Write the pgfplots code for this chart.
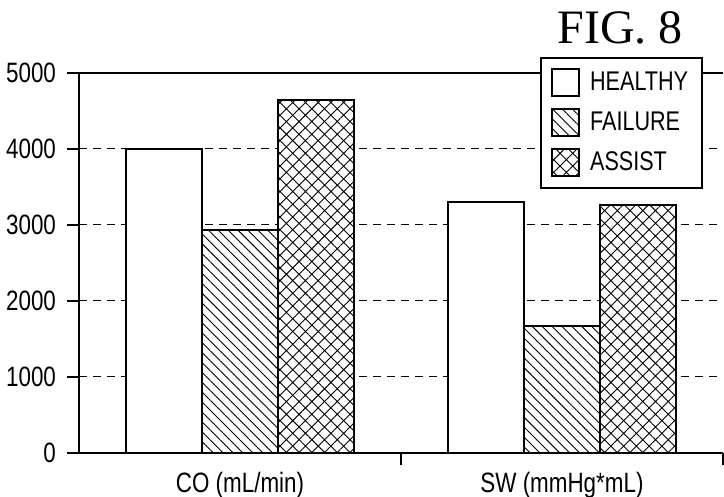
\documentclass[border=0pt]{standalone}
\usepackage{fontspec}
\setmainfont{Liberation Sans}[FakeStretch=0.8]
\newfontfamily\seriffig{Liberation Serif}
\usepackage{pgfplots}
\pgfplotsset{compat=1.18}
\usetikzlibrary{patterns.meta}
\begin{document}
\begin{tikzpicture}
\begin{axis}[name=ax, scale only axis, width=322pt, height=190pt,
 xmin=0.5, xmax=2.5, ymin=0, ymax=5000,
 axis lines=left, axis line style={-, line width=1pt, black},
 ybar=0pt, bar width=38pt,
 xtick={1,2}, xticklabels={CO (mL/min), SW (mmHg*mL)},
 minor xtick={1.5,2.5},
 major x tick style={draw=none},
 minor x tick style={draw=black, line width=0.8pt},
 minor tick length=6pt,
 ytick={0,1000,2000,3000,4000},
 extra y ticks={5000},
 extra y tick style={major grid style={solid, black, line width=0.8pt}},
 ymajorgrids, major grid style={black, dash pattern=on 4pt off 3pt, line width=0.5pt},
 tick align=outside, major tick length=6pt,
 major y tick style={line width=0.8pt, black},
 ticklabel style={font=\fontsize{14}{16}\selectfont},
 yticklabel style={xshift=-2pt, /pgf/number format/1000 sep={}},
 /pgf/number format/assume math mode=true,
 scaled y ticks=false,
 legend image code/.code={\draw[#1] (0pt,-6.5pt) rectangle (13.5pt,7pt);},
 legend style={at={(0.716,1.042)}, anchor=north west, draw=black, line width=1pt,
   font=\fontsize{13.5}{15}\selectfont, inner xsep=5pt, inner ysep=5pt,
   row sep=5pt, column sep=3pt, fill=white},
 legend cell align=left,
]
\addplot[draw=black, line width=1pt, fill=white]
 coordinates {(1,4000) (2,3300)};
\addplot[draw=black, line width=1pt, fill=white,
 postaction={pattern={Lines[angle=-45,distance=3.5pt,line width=0.45pt]}}]
 coordinates {(1,2930) (2,1670)};
\addplot[draw=black, line width=1pt, fill=white,
 postaction={pattern={Hatch[angle=45,distance=4.5pt,line width=0.45pt]}}]
 coordinates {(1,4645) (2,3265)};
\legend{HEALTHY, FAILURE, ASSIST}
\end{axis}
\node[font=\seriffig\fontsize{24}{26}\selectfont] at ([shift={(270.5pt,212.5pt)}]ax.south west) {FIG. 8};
\pgfresetboundingbox
\path[use as bounding box] ([shift={(-39.5pt,-22pt)}]ax.south west) rectangle ++(362pt,248.5pt);
\end{tikzpicture}
\end{document}
